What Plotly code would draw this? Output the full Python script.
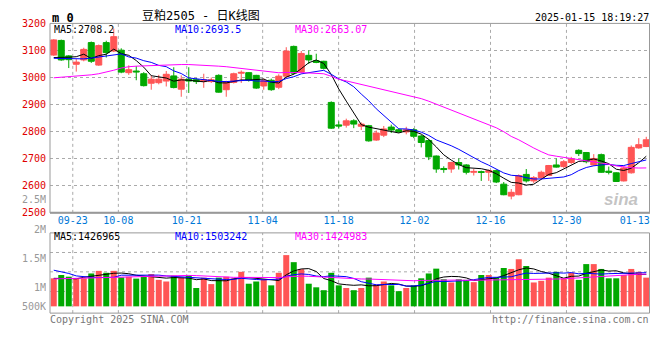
import plotly.graph_objects as go

W, H = 660, 360

# ---------------- data (slot 0 = first visible trading day, slot 79 = 2025-01-15)
opens = [3083, 3137, 3080, 3049, 3065, 3129, 3046, 3129, 3098, 3101,
         3018, 3024, 3014, 2979, 2981, 2987, 3006, 2957, 2994, 2992,
         2985, 2985, 3008, 2955, 2982, 3016, 3018, 3008, 2969, 2990,
         2964, 3005, 3115, 3020, 3082, 3062, 3060, 2908, 2825, 2824,
         2840, 2820, 2822, 2769, 2787, 2817, 2807, 2799, 2807, 2784,
         2767, 2710, 2664, 2662, 2686, 2677, 2650, 2652, 2650, 2656,
         2606, 2562, 2567, 2642, 2618, 2630, 2638, 2677, 2671, 2686,
         2731, 2723, 2677, 2715, 2654, 2648, 2618, 2648, 2740, 2745]
highs = [3142, 3140, 3083, 3068, 3110, 3133, 3122, 3136, 3181, 3108,
         3045, 3042, 3020, 3008, 3010, 3024, 3038, 3008, 3038, 2998,
         3014, 3000, 3012, 2988, 3018, 3026, 3020, 3010, 2996, 2996,
         3012, 3112, 3118, 3098, 3100, 3088, 3062, 2912, 2838, 2848,
         2846, 2834, 2825, 2804, 2821, 2826, 2811, 2818, 2813, 2788,
         2773, 2712, 2672, 2689, 2701, 2680, 2662, 2656, 2660, 2660,
         2614, 2588, 2642, 2662, 2636, 2656, 2677, 2701, 2695, 2707,
         2735, 2725, 2717, 2719, 2671, 2650, 2671, 2749, 2776, 2781]
lows = [3080, 3062, 3035, 3022, 3060, 3054, 3043, 3074, 3094, 3016,
        3010, 2990, 2967, 2955, 2975, 2967, 2960, 2929, 2943, 2976,
        2962, 2980, 2944, 2929, 2978, 2980, 2985, 2958, 2955, 2951,
        2957, 3000, 3010, 3015, 3050, 3053, 3030, 2810, 2812, 2815,
        2813, 2806, 2763, 2766, 2780, 2795, 2796, 2790, 2776, 2742,
        2695, 2648, 2648, 2648, 2660, 2642, 2638, 2618, 2618, 2610,
        2565, 2550, 2565, 2612, 2610, 2624, 2636, 2667, 2666, 2681,
        2710, 2683, 2674, 2648, 2642, 2614, 2616, 2645, 2737, 2743]
closes = [3139, 3065, 3066, 3057, 3104, 3060, 3118, 3092, 3151, 3020,
          3029, 3021, 2970, 2994, 2994, 3012, 2963, 2994, 2987, 2985,
          2992, 2992, 2946, 2985, 3014, 3019, 2990, 2961, 2988, 2955,
          3005, 3098, 3016, 3089, 3065, 3056, 3034, 2813, 2821, 2840,
          2828, 2828, 2766, 2795, 2810, 2806, 2799, 2807, 2783, 2760,
          2707, 2662, 2660, 2686, 2677, 2650, 2653, 2650, 2656, 2614,
          2567, 2576, 2638, 2618, 2630, 2650, 2675, 2669, 2689, 2699,
          2719, 2689, 2701, 2650, 2650, 2616, 2666, 2742, 2752, 2770]
volumes = [1250000, 1397000, 1323000, 1250000, 1250000, 1466000, 1582000, 1496000, 1582000, 1293000,
           1323000, 1237000, 1323000, 1440000, 1181000, 1108000, 1367000, 1280000, 1367000, 819000,
           1280000, 992000, 1280000, 1323000, 1250000, 1539000, 1009000, 1108000, 1207000, 936000,
           1496000, 2285000, 1970000, 1655000, 1009000, 849000, 720000, 1496000, 936000, 819000,
           720000, 819000, 1280000, 966000, 1108000, 936000, 677000, 819000, 936000, 1250000,
           1466000, 1681000, 1207000, 1065000, 1207000, 1181000, 1078000, 1397000, 1397000, 1280000,
           1711000, 1668000, 2100000, 1798000, 1065000, 1138000, 1280000, 1539000, 1250000, 1496000,
           1181000, 1884000, 1884000, 1668000, 1250000, 1250000, 1397000, 1668000, 1539000, 1280000]

# moving-average values before enough visible history exists
ma5_head = [3074, 3074, 3075, 3077]
ma10_head = [3071, 3071, 3071, 3070, 3069, 3072, 3076, 3080, 3085]
ma30_head = [2999, 3001, 3002, 3004, 3006, 3010, 3014, 3020, 3027, 3035,
             3040, 3042, 3043, 3045, 3047, 3048, 3048, 3048, 3048, 3047,
             3046, 3044, 3042, 3040, 3037, 3033, 3029, 3026, 3024]
vma5_head = [1250000, 1250000, 1242000, 1229000]
vma10_head = [1612000, 1552000, 1466000, 1358000, 1315000, 1293000, 1285000, 1285000, 1293000]
vma30_head = [1224000, 1233000, 1246000, 1259000, 1276000, 1293000, 1302000, 1311000, 1319000, 1323000,
              1332000, 1341000, 1354000, 1367000, 1375000, 1380000, 1380000, 1380000, 1380000, 1371000,
              1354000, 1328000, 1306000, 1298000, 1293000, 1293000, 1289000, 1285000, 1280000]

date_labels = ["09-23", "10-08", "10-21", "11-04", "11-18", "12-02", "12-16", "12-30", "01-13"]
date_slots = [3, 9, 18, 28, 38, 48, 58, 68, 77]
date_has_grid = [True, True, True, True, True, True, True, True, False]

price_ticks = [2500, 2600, 2700, 2800, 2900, 3000, 3100, 3200]
vol_labels = ["2.5M", "2M", "1.5M", "1M", "500K"]
vol_label_px = [200, 231, 260.7, 290.7, 310.7]

title_text = "豆粕2505 - 日K线图"
stamp_text = "2025-01-15 18:19:27"
price_legend = ["MA5:2708.2", "MA10:2693.5", "MA30:2663.07"]
vol_legend = ["MA5:1426965", "MA10:1503242", "MA30:1424983"]

# ---------------- styles
RED = "#ff5555"
GREEN = "#00a800"
MA_COLORS = ["#000000", "#0000ff", "#ff00ff"]
GRID = "#aaaaaa"
BORDER = "#999999"
MONO = "DejaVu Sans Mono"

N = len(closes)
xs = list(range(N))


def moving_avg(vals, n, head):
    out = []
    for i in range(len(vals)):
        if i < n - 1:
            out.append(head[i])
        else:
            out.append(sum(vals[i - n + 1:i + 1]) / n)
    return out


def px_x(px):
    return px / W


def px_y(py):
    return 1 - py / H


PX0, PX1 = 50, 650
P_TOP, P_BOT = 18, 214
V_TOP, V_BOT = 234.7, 317.7

fig = go.Figure()

fig.add_trace(go.Candlestick(
    x=xs, open=opens, high=highs, low=lows, close=closes,
    increasing=dict(line=dict(color=RED, width=1), fillcolor=RED),
    decreasing=dict(line=dict(color=GREEN, width=1), fillcolor=GREEN),
    whiskerwidth=0, xaxis="x", yaxis="y", showlegend=False, hoverinfo="skip"))

for n, head, col in zip([5, 10, 30], [ma5_head, ma10_head, ma30_head], MA_COLORS):
    fig.add_trace(go.Scatter(x=xs, y=moving_avg(closes, n, head), mode="lines",
                             line=dict(color=col, width=1), xaxis="x", yaxis="y",
                             showlegend=False, hoverinfo="skip"))

vcolors = [RED if c >= o else GREEN for o, c in zip(opens, closes)]
fig.add_trace(go.Bar(x=xs, y=volumes, marker=dict(color=vcolors, line=dict(width=0)),
                     width=0.8, xaxis="x2", yaxis="y2", showlegend=False, hoverinfo="skip"))

for n, head, col in zip([5, 10, 30], [vma5_head, vma10_head, vma30_head], MA_COLORS):
    fig.add_trace(go.Scatter(x=xs, y=moving_avg(volumes, n, head), mode="lines",
                             line=dict(color=col, width=1), xaxis="x2", yaxis="y2",
                             showlegend=False, hoverinfo="skip"))

# x positions of date gridlines (sina places them on an N-1 scale)
grid_x = [s * N / (N - 1) - 0.5 for s in date_slots]

# volume scale: bar base at pixel 310.7, MA legend consistent
vol_per_px = 43111
vol_range = [-(V_BOT - 310.7) * vol_per_px, (310.7 - V_TOP) * vol_per_px]

shapes = []
for gx, g in zip(grid_x, date_has_grid):
    if not g:
        continue
    shapes.append(dict(type="line", xref="x", yref="paper", x0=gx, x1=gx,
                       y0=px_y(P_BOT), y1=px_y(P_TOP),
                       line=dict(color=GRID, width=1, dash="dot"), layer="below"))
    shapes.append(dict(type="line", xref="x2", yref="paper", x0=gx, x1=gx,
                       y0=px_y(V_BOT), y1=px_y(V_TOP),
                       line=dict(color=GRID, width=1, dash="dot"), layer="below"))
for gy in [255, 275, 295.3]:
    shapes.append(dict(type="line", xref="paper", yref="paper", x0=px_x(PX0), x1=px_x(PX1),
                       y0=px_y(gy), y1=px_y(gy), line=dict(color=GRID, width=1, dash="dot"),
                       layer="below"))
# panel borders
for (t, b) in [(P_TOP, P_BOT), (V_TOP, V_BOT)]:
    shapes.append(dict(type="rect", xref="paper", yref="paper", x0=px_x(PX0), x1=px_x(PX1 - 0.5),
                       y0=px_y(b), y1=px_y(t), line=dict(color=BORDER, width=1)))
shapes.append(dict(type="line", xref="paper", yref="paper", x0=px_x(PX0), x1=px_x(PX1),
                   y0=px_y(P_BOT), y1=px_y(P_BOT), line=dict(color=BORDER, width=2)))

ann = []


def text(x, y, s, color="#000", size=10, anchor="left", family=MONO, bold=False, height=None):
    a = dict(x=px_x(x), y=px_y(y), xref="paper", yref="paper", text=("<b>%s</b>" % s) if bold else s,
             showarrow=False, xanchor=anchor, yanchor="middle", borderpad=0,
             font=dict(family=family, size=size, color=color))
    if height is not None:
        a["height"] = height
    ann.append(a)


text(51, 12, "m 0", size=12, bold=True)
text(201, 9.5, title_text, size=12, anchor="center",
     family="DejaVu Sans Mono, Noto Sans CJK SC", height=15)
text(650, 12, stamp_text, size=10, anchor="right")
for s, x, c in zip(price_legend, [53, 174, 294], MA_COLORS):
    text(x, 24.5, s, color=c, height=11)
for s, x, c in zip(vol_legend, [53, 174, 294], MA_COLORS):
    text(x, 238.5, s, color=c, height=11)
for s, y in zip(vol_labels, vol_label_px):
    text(46.5, y, s, color="#999999", anchor="right", height=11)
text(49, 324, "Copyright 2025 SINA.COM", color="#777777")
text(650, 324, "http://finance.sina.com.cn", color="#777777", anchor="right")
ann.append(dict(x=px_x(621), y=px_y(200), xref="paper", yref="paper", text="<b><i>sina</i></b>",
                showarrow=False, xanchor="center", yanchor="middle",
                font=dict(family="Liberation Sans", size=17, color="rgba(170,170,170,0.7)")))

fig.update_layout(
    width=W, height=H, margin=dict(l=0, r=0, t=0, b=0),
    paper_bgcolor="white", plot_bgcolor="white",
    boxgap=0.2, boxgroupgap=0,
    xaxis=dict(domain=[px_x(PX0), px_x(PX1)], range=[-0.5, N - 0.5], anchor="y",
               tickmode="array", tickvals=grid_x, ticktext=date_labels,
               tickfont=dict(family=MONO, size=10, color="#0078d7"),
               showgrid=False, zeroline=False, showline=False, ticks="",
               rangeslider=dict(visible=False)),
    yaxis=dict(domain=[px_y(P_BOT), px_y(P_TOP)], range=[price_ticks[0], price_ticks[-1]],
               tickmode="array", tickvals=price_ticks,
               tickfont=dict(family=MONO, size=10, color="#e00000"),
               showgrid=True, gridcolor=GRID, griddash="dot", gridwidth=1,
               zeroline=False, showline=False, ticks="", ticklabelstandoff=3),
    xaxis2=dict(domain=[px_x(PX0), px_x(PX1)], range=[-0.5, N - 0.5], anchor="y2",
                showticklabels=False, showgrid=False, zeroline=False, showline=False),
    yaxis2=dict(domain=[px_y(V_BOT), px_y(V_TOP)], range=vol_range, anchor="x2",
                showticklabels=False, showgrid=False, zeroline=False, showline=False),
    shapes=shapes, annotations=ann, showlegend=False,
)

fig.write_html("out.html", config={"displayModeBar": False},
               post_script="document.body.style.margin='0';document.body.style.padding='0';")
